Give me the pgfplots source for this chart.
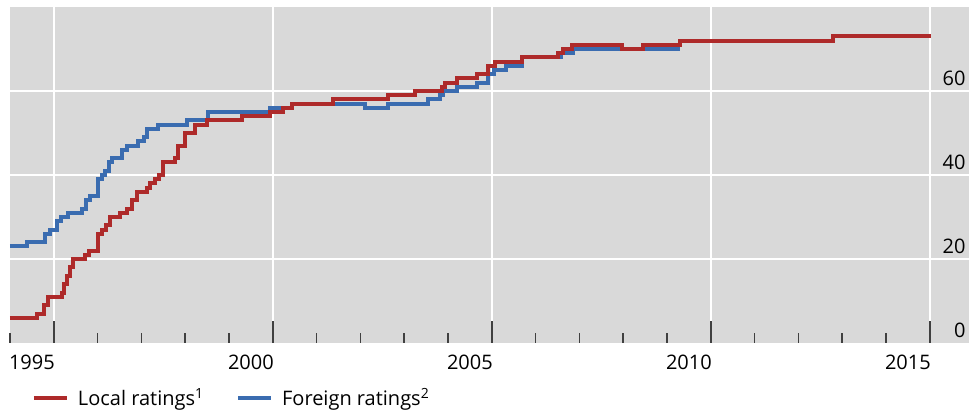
\documentclass[border=0pt]{standalone}
\usepackage{fontspec}
\setmainfont{Open Sans}
\usepackage{pgfplots}
\pgfplotsset{compat=1.18}

\definecolor{panel}{RGB}{217,217,217}
\definecolor{locred}{RGB}{174,42,42}
\definecolor{forblue}{RGB}{58,108,176}
\definecolor{tickgray}{RGB}{64,64,64}

\begin{document}
\begin{tikzpicture}
\begin{axis}[
  scale only axis, width=479.5pt, height=168pt,
  xmin=1995, xmax=2016.895, ymin=0, ymax=80,
  axis line style={draw=none},
  axis background/.style={fill=panel},
  font=\fontsize{10}{12}\selectfont,
  /pgf/number format/assume math mode=true,
  tick align=inside,
  major tick length=11pt, minor tick length=5pt,
  xtick={1996,2001,2006,2011,2016}, xticklabels={},
  minor xtick={1995,1997,1998,1999,2000,2002,2003,2004,2005,2007,2008,2009,2010,2012,2013,2014,2015},
  xtick pos=bottom,
  xtick style={tickgray, line width=0.75pt},
  xmajorgrids,
  grid style={white, line width=0.75pt},
  extra x ticks={1995.5,2000.5,2005.5,2010.5,2015.5},
  extra x tick labels={1995,2000,2005,2010,2015},
  extra x tick style={major tick length=0pt, grid=none},
  xticklabel style={anchor=north, inner sep=0pt, yshift=-6pt},
  ytick={20,40,60}, ymajorgrids,
  ytick style={draw=none},
  extra y ticks={0},
  extra y tick style={grid=none, major tick length=0pt},
  yticklabel pos=right,
  yticklabel style={anchor=south east, inner sep=0pt, xshift=-1.5pt, yshift=2.5pt},
  legend columns=2, reverse legend,
  legend image code/.code={\draw[#1] (0pt,0pt) -- (16.5pt,0pt);},
  legend style={at={(axis description cs:0.0229,-0.165)}, anchor=west,
    draw=none, fill=none, inner sep=0pt, outer sep=0pt,
    nodes={inner sep=0pt},
    /tikz/every odd column/.append style={column sep=4.5pt},
    /tikz/every even column/.append style={column sep=16pt}},
]

% foreign ratings (under)
\addplot[forblue, line width=2pt, const plot] coordinates {
  (1995.00,23) (1995.39,24) (1995.80,26) (1995.91,27) (1996.07,29)
  (1996.16,30) (1996.32,31) (1996.64,32) (1996.74,34) (1996.83,35)
  (1997.01,39) (1997.10,40) (1997.17,41) (1997.26,43) (1997.33,44)
  (1997.56,46) (1997.67,47) (1997.92,48) (1998.06,49) (1998.13,51)
  (1998.38,52) (1999.04,53) (1999.52,55) (2000.94,56) (2001.44,57)
  (2003.11,56) (2003.63,57) (2004.54,58) (2004.82,59) (2004.89,60)
  (2005.21,61) (2005.66,62) (2005.91,64) (2006.05,65) (2006.32,66)
  (2006.69,68) (2007.58,69) (2007.85,70) (2010.30,70)
};
\addlegendentry{Foreign ratings\textsuperscript{2}}

% local ratings (on top)
\addplot[locred, line width=2pt, const plot] coordinates {
  (1995.00,6) (1995.62,7) (1995.78,9) (1995.87,11) (1996.19,12)
  (1996.23,14) (1996.30,16) (1996.37,18) (1996.44,20) (1996.71,21)
  (1996.80,22) (1997.01,26) (1997.10,27) (1997.19,28) (1997.28,30)
  (1997.51,31) (1997.67,32) (1997.79,34) (1997.90,36) (1998.13,37)
  (1998.20,38) (1998.31,39) (1998.40,40) (1998.49,43) (1998.77,44)
  (1998.84,47) (1999.00,50) (1999.22,52) (1999.50,53) (2000.30,54)
  (2000.94,55) (2001.23,56) (2001.44,57) (2002.37,58) (2003.63,59)
  (2004.25,60) (2004.86,61) (2004.93,62) (2005.21,63) (2005.66,64)
  (2005.91,66) (2006.07,67) (2006.69,68) (2007.51,69) (2007.63,70)
  (2007.83,71) (2008.97,70) (2009.45,71) (2010.30,72) (2013.79,73)
  (2016.03,73)
};
\addlegendentry{Local ratings\textsuperscript{1}}

\end{axis}
\path[use as bounding box] ([xshift=-5pt,yshift=3.5pt]current axis.north west)
  rectangle ([xshift=1.5pt,yshift=-34.5pt]current axis.south east);
\end{tikzpicture}
\end{document}
